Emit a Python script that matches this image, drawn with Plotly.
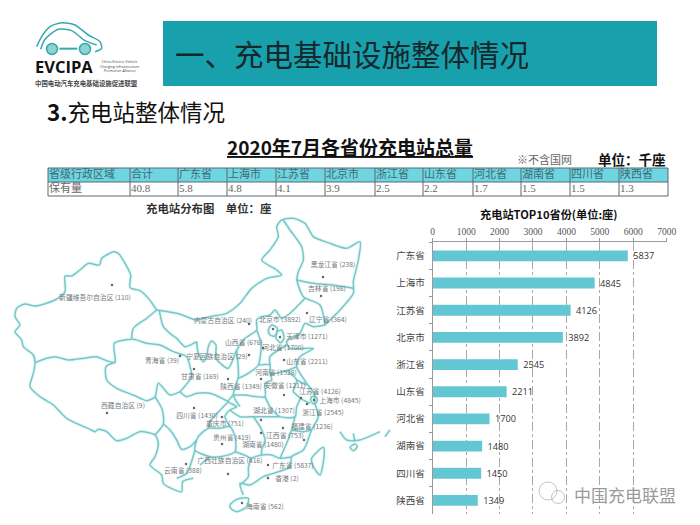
# 2020年7月各省份充电站总量 - slide with table, map and top10 bars
import plotly.graph_objects as go

cjk = "Noto Sans CJK SC"
serif = "Liberation Serif, Noto Sans CJK SC"

# table
table_head = ["省级行政区域", "合计", "广东省", "上海市", "江苏省", "北京市", "浙江省", "山东省", "河北省", "湖南省", "四川省", "陕西省"]
table_vals = ["保有量", "40.8", "5.8", "4.8", "4.1", "3.9", "2.5", "2.2", "1.7", "1.5", "1.5", "1.3"]
col_edges = [48, 130, 178, 227, 276, 325, 375, 423, 473, 521, 570, 619, 668]

# top 10 bars
provinces = ["广东省", "上海市", "江苏省", "北京市", "浙江省", "山东省", "河北省", "湖南省", "四川省", "陕西省"]
stations = [5837, 4845, 4126, 3892, 2545, 2211, 1700, 1480, 1450, 1349]

# map labels (name, label x, label y, dot x, dot y)
map_names = ["新疆维吾尔自治区 (110)", "青海省 (39)", "西藏自治区 (9)", "四川省 (1430)", "云南省 (388)", "内蒙古自治区 (240)",
             "北京市 (3892)", "辽宁省 (364)", "黑龙江省 (238)", "吉林省 (198)", "天津市 (1271)", "山西省 (676)",
             "河北省 (1700)", "宁夏回族自治区 (29)", "甘肃省 (169)", "山东省 (2211)", "河南省 (1528)", "陕西省 (1349)",
             "安徽省 (1211)", "江苏省 (4126)", "上海市 (4845)", "浙江省 (2545)", "湖北省 (1307)", "重庆市 (751)",
             "福建省 (1236)", "江西省 (753)", "贵州省 (419)", "湖南省 (1480)", "广西壮族自治区 (416)", "广东省 (5837)",
             "香港 (2)", "海南省 (562)"]
label_x = [95, 162, 123, 197, 183, 223, 280, 328, 333, 327, 307, 244, 283, 217, 200, 307, 276, 241, 285, 320, 340,
           323, 274, 225, 312, 285, 232, 263, 230, 293, 287, 265]
label_y = [298, 361, 406, 416, 471, 321, 320, 320, 265, 289, 337, 343, 348, 357, 377, 362, 373, 387, 386, 392, 401,
           413, 411, 424, 427, 436, 438, 445, 461, 466, 479, 507]
dot_x = [112, 180, 107, 194, 186, 249, 273, 307, 323, 321, 280, 249, 263, 180, 194, 284, 261, 228, 284, 301, 314,
         307, 261, 222, 304, 283, 222, 261, 228, 268, 268, 242]
dot_y = [285, 356, 413, 408, 464, 324, 329, 313, 277, 296, 337, 355, 348, 356, 369, 360, 379, 379, 395, 398, 400,
         404, 420, 417, 440, 428, 444, 433, 474, 465, 478, 503]

west_lines = [
    [(470, 330), (445, 295), (420, 272), (390, 263), (392, 225), (375, 190), (355, 160), (340, 155), (320, 165),
     (305, 175), (298, 195), (265, 190), (240, 210), (215, 228), (195, 228), (195, 275), (165, 300), (105, 318),
     (75, 312), (50, 325), (45, 350), (60, 375), (45, 395), (65, 420), (70, 440), (100, 465), (105, 490), (100, 520),
     (90, 560), (120, 590), (160, 615), (200, 655), (270, 688), (285, 695), (295, 688), (320, 695), (350, 722),
     (380, 715), (420, 695), (465, 705), (475, 730), (465, 770), (450, 795), (485, 825), (490, 850), (520, 868),
     (545, 875), (548, 845), (580, 835)],
    [(105, 488), (140, 475), (165, 470), (205, 480), (250, 475), (290, 470), (320, 482), (345, 487), (343, 430),
     (400, 418), (440, 430), (480, 435), (520, 455), (560, 470), (570, 500), (575, 530), (540, 575)],
    [(345, 487), (318, 500), (320, 540), (350, 565), (400, 585), (440, 602), (465, 590), (475, 550), (510, 585), (540, 575)],
    [(465, 590), (487, 630), (490, 672), (465, 705)],
    [(470, 330), (440, 355), (400, 385), (395, 415)],
    [(470, 330), (530, 340), (585, 360)],
    [(478, 332), (490, 380), (510, 400), (530, 415), (555, 440), (590, 425)],
    [(490, 672), (510, 690), (530, 720), (545, 748), (570, 740), (590, 720)],
]

# outlines traced from the east half (crop origin 190,210 at 3x)
east_lines = [
    [(15, 330), (60, 320), (110, 310), (150, 280), (185, 235), (230, 205), (275, 195), (260, 180), (215, 150),
     (240, 120), (265, 80), (260, 50), (275, 30), (310, 25), (345, 40), (370, 80), (420, 100), (470, 115), (510, 95),
     (505, 150), (490, 215), (490, 250), (450, 300), (430, 320), (405, 345)],
    [(280, 30), (300, 60), (335, 110), (340, 150), (325, 185), (320, 210)],
    [(320, 210), (370, 220), (430, 225), (490, 235)],
    [(320, 210), (340, 260), (390, 285), (405, 345)],
    [(405, 345), (370, 350), (345, 340), (330, 370), (290, 395), (300, 415), (370, 415), (330, 440), (320, 470),
     (350, 520), (372, 550), (375, 580), (385, 620), (365, 660), (340, 720), (305, 740), (300, 770), (250, 790),
     (220, 800), (180, 825), (150, 820), (160, 855)],
    [(20, 395), (25, 430), (40, 455), (50, 440), (55, 410), (65, 393), (78, 405), (78, 445), (115, 475), (140, 420),
     (165, 385), (200, 360), (200, 330), (215, 320), (240, 315), (255, 300), (275, 325), (300, 310), (345, 265)],
    [(140, 420), (145, 500), (130, 555), (150, 590)],
    [(200, 360), (213, 400), (205, 465), (175, 490), (145, 505)],
    [(205, 465), (240, 465), (240, 490), (290, 482), (320, 470)],
    [(240, 465), (240, 440), (290, 405)],
    [(240, 490), (245, 510), (225, 520), (225, 560), (165, 555), (130, 555)],
    [(290, 482), (320, 510), (310, 545), (330, 565), (320, 590), (315, 620), (270, 620), (240, 590), (225, 560)],
    [(120, 600), (150, 620), (190, 620), (240, 620), (270, 620)],
    [(130, 555), (115, 575), (140, 590), (120, 600), (105, 620), (120, 650)],
    [(-30, 545), (-10, 560), (20, 550), (60, 550), (115, 575)],
    [(115, 575), (60, 635), (55, 655)],
    [(55, 655), (25, 680), (15, 720), (60, 740), (90, 740), (135, 725), (135, 680), (120, 650), (90, 655), (55, 655)],
    [(-40, 805), (-10, 790), (15, 720)],
    [(30, 765), (60, 740)],
    [(135, 725), (180, 745), (175, 775), (175, 800), (150, 825)],
    [(180, 745), (215, 735), (245, 735), (270, 745), (305, 740)],
    [(190, 620), (210, 650), (225, 690), (215, 720), (215, 735)],
    [(315, 620), (305, 660), (290, 700), (270, 745)],
    [(305, 660), (340, 665), (365, 660)],
    [(320, 510), (350, 525)],
    [(330, 565), (360, 580)],
    [(235, 360), (245, 345), (262, 355), (255, 378), (240, 375), (235, 360)],
    [(262, 365), (275, 360), (282, 385), (272, 398), (258, 385), (262, 365)],
    [(365, 560), (378, 560), (382, 572), (372, 582), (362, 572), (365, 560)],
    [(120, 885), (140, 868), (175, 865), (170, 890), (140, 905), (122, 895), (120, 885)],
    [(365, 745), (400, 712), (403, 730), (390, 795), (370, 770), (365, 745)],
    [(450, 665), (470, 690), (510, 690), (570, 665)],
    [(490, 670), (495, 695)],
    [(480, 712), (495, 702), (502, 710), (490, 722), (480, 712)],
    [(585, 680), (600, 660)],
]

# logo car, traced at 3x from the top left corner
car_outer = [(110, 140), (125, 110), (150, 80), (185, 68), (225, 75), (265, 105), (300, 125), (305, 145), (285, 155)]
car_inner = [(122, 148), (135, 118), (175, 88), (215, 92), (255, 122), (290, 135)]
plug = [(178, 146), (232, 146)]

fig = go.Figure()

# page level overlay in picture pixels
def add_line(points, ox, oy, color="#7cc5c6", width=1.5):
    fig.add_trace(go.Scatter(
        x=[ox + p[0] / 3 for p in points],
        y=[oy + p[1] / 3 for p in points],
        mode="lines",
        line=dict(color=color, width=width, shape="spline", smoothing=0.7),
        xaxis="x2", yaxis="y2", hoverinfo="skip", showlegend=False,
    ))

# pale halo under the map lines, the source is a blurry jpeg
for line in west_lines:
    add_line(line, 0, 200, color="rgba(150,235,235,0.3)", width=3.5)
for line in east_lines:
    add_line(line, 190, 210, color="rgba(150,235,235,0.3)", width=3.5)
for line in west_lines:
    add_line(line, 0, 200)
for line in east_lines:
    add_line(line, 190, 210)

fig.add_trace(go.Scatter(x=dot_x, y=dot_y, mode="markers", marker=dict(color="#666666", size=2.5),
                         xaxis="x2", yaxis="y2", hoverinfo="skip", showlegend=False))
fig.add_trace(go.Scatter(x=label_x, y=label_y, mode="text", text=map_names,
                         textfont=dict(family=cjk, size=6.8, color="#74797d"),
                         xaxis="x2", yaxis="y2", hoverinfo="skip", showlegend=False))

# logo
add_line(car_outer, 0, 0, color="#35a9ac", width=1.5)
add_line(car_inner, 0, 0, color="#35a9ac", width=1.5)
add_line(plug, 0, 0, color="#35a9ac", width=2)
fig.add_trace(go.Scatter(x=[52, 85], y=[49, 49], mode="markers",
                         marker=dict(size=11, color="#8fd2d2", line=dict(color="#35a9ac", width=1.5)),
                         xaxis="x2", yaxis="y2", hoverinfo="skip", showlegend=False))

# wechat bubbles next to the watermark
fig.add_trace(go.Scatter(x=[548, 558], y=[491, 497], mode="markers",
                         marker=dict(size=[18, 13], color="rgba(0,0,0,0)", line=dict(color="#aaaaaa", width=1)),
                         xaxis="x2", yaxis="y2", hoverinfo="skip", showlegend=False))

# top 10 bars
fig.add_trace(go.Bar(
    x=stations, y=provinces, orientation="h",
    marker=dict(color="#62c6d3", line=dict(width=0)),
    text=[" %d" % v for v in stations], textposition="outside", cliponaxis=False, constraintext="none",
    textfont=dict(family="Open Sans", size=9.2, color="#333333"),
    showlegend=False,
))

# table cells as text in the overlay, the grid itself is in shapes below
table_shapes = [
    dict(type="rect", xref="x2", yref="y2", x0=col_edges[0], x1=col_edges[-1], y0=168, y1=182,
         fillcolor="#6fd5e0", line=dict(width=0), layer="below"),
    dict(type="rect", xref="x2", yref="y2", x0=col_edges[0], x1=col_edges[-1], y0=168, y1=196,
         fillcolor="rgba(0,0,0,0)", line=dict(color="#5a6a70", width=1), layer="below"),
    dict(type="line", xref="x2", yref="y2", x0=col_edges[0], x1=col_edges[-1], y0=182, y1=182,
         line=dict(color="#5a6a70", width=1), layer="below"),
]
for edge in col_edges[1:-1]:
    table_shapes.append(dict(type="line", xref="x2", yref="y2", x0=edge, x1=edge, y0=168, y1=196,
                             line=dict(color="#5a6a70", width=1), layer="below"))
cell_x = [e + 1 for e in col_edges[:-1]]
fig.add_trace(go.Scatter(x=cell_x, y=[175.5] * 12, mode="text", text=table_head, textposition="middle right",
                         textfont=dict(family=serif, size=11, color="#3d6a72"),
                         xaxis="x2", yaxis="y2", hoverinfo="skip", showlegend=False))
fig.add_trace(go.Scatter(x=cell_x, y=[189.5] * 12, mode="text", text=table_vals, textposition="middle right",
                         textfont=dict(family=serif, size=11, color="#666666"),
                         xaxis="x2", yaxis="y2", hoverinfo="skip", showlegend=False))

fig.update_layout(
    width=700, height=525,
    margin=dict(l=0, r=0, t=0, b=0, autoexpand=False),
    paper_bgcolor="white", plot_bgcolor="rgba(0,0,0,0)",
    bargap=0.6,
    xaxis=dict(domain=[432.7 / 700, 666.7 / 700], side="top", range=[0, 7000], dtick=1000,
               showline=True, linecolor="#9a9a9a", ticks="outside", ticklen=3, tickcolor="#9a9a9a",
               showgrid=True, gridcolor="#a8a8a8", griddash="dashdot", gridwidth=1, zeroline=False,
               tickfont=dict(family="Liberation Serif", size=9.5, color="#555555"), anchor="y"),
    yaxis=dict(domain=[(525 - 514) / 525, (525 - 242.3) / 525], autorange="reversed", type="category",
               showline=True, linecolor="#9a9a9a", ticks="outside", ticklen=3, tickcolor="#9a9a9a",
               tickson="boundaries", showgrid=False, ticklabelstandoff=5,
               tickfont=dict(family=cjk, size=9.5, color="#444444"), anchor="x"),
    xaxis2=dict(domain=[0, 1], range=[0, 700], visible=False, anchor="y2", fixedrange=True),
    yaxis2=dict(domain=[0, 1], range=[525, 0], visible=False, anchor="x2", fixedrange=True),
    shapes=[dict(type="rect", xref="x2", yref="y2", x0=163, x1=657, y0=21, y1=86,
                 fillcolor="#18a0ad", line=dict(width=0), layer="below")] + table_shapes,
)

def note(text, x, y, size, color="#111111", family=cjk, anchor="left"):
    fig.add_annotation(text=text, x=x, y=y, xref="x2", yref="y2", showarrow=False, xanchor=anchor,
                       yanchor="middle", font=dict(family=family, size=size, color=color))

note("一、充电基础设施整体情况", 173, 53, 29.5, color="#16282c")
note("<b>3.</b>充电站整体情况", 45, 111, 22.5, color="#111111")
note("<b><u>2020年7月各省份充电站总量</u></b>", 350, 146, 19, anchor="center")
note("※不含国网", 515, 159, 11, color="#666666")
note("<b>单位：千座</b>", 596, 159, 13.5)
note("<b>充电站分布图　单位：座</b>", 208, 208, 11.4, color="#333333", anchor="center")
note("<b>充电站TOP10省份(单位:座)</b>", 549, 214, 11.2, anchor="center")
note("<b>EVCIPA</b>", 33, 66.5, 16.5, family="Open Sans")
note("China Electric Vehicle<br>Charging Infrastructure<br>Promotion Alliance", 98, 66, 3.6, color="#444444", family="Open Sans")
note("<b>中国电动汽车充电基础设施促进联盟</b>", 33, 83, 6.4, color="#444444")
note("中国充电联盟", 572, 494, 17, color="#9a9a9a")

fig.write_html("out.html", config={"displayModeBar": False}, post_script="document.body.style.margin='0';")
